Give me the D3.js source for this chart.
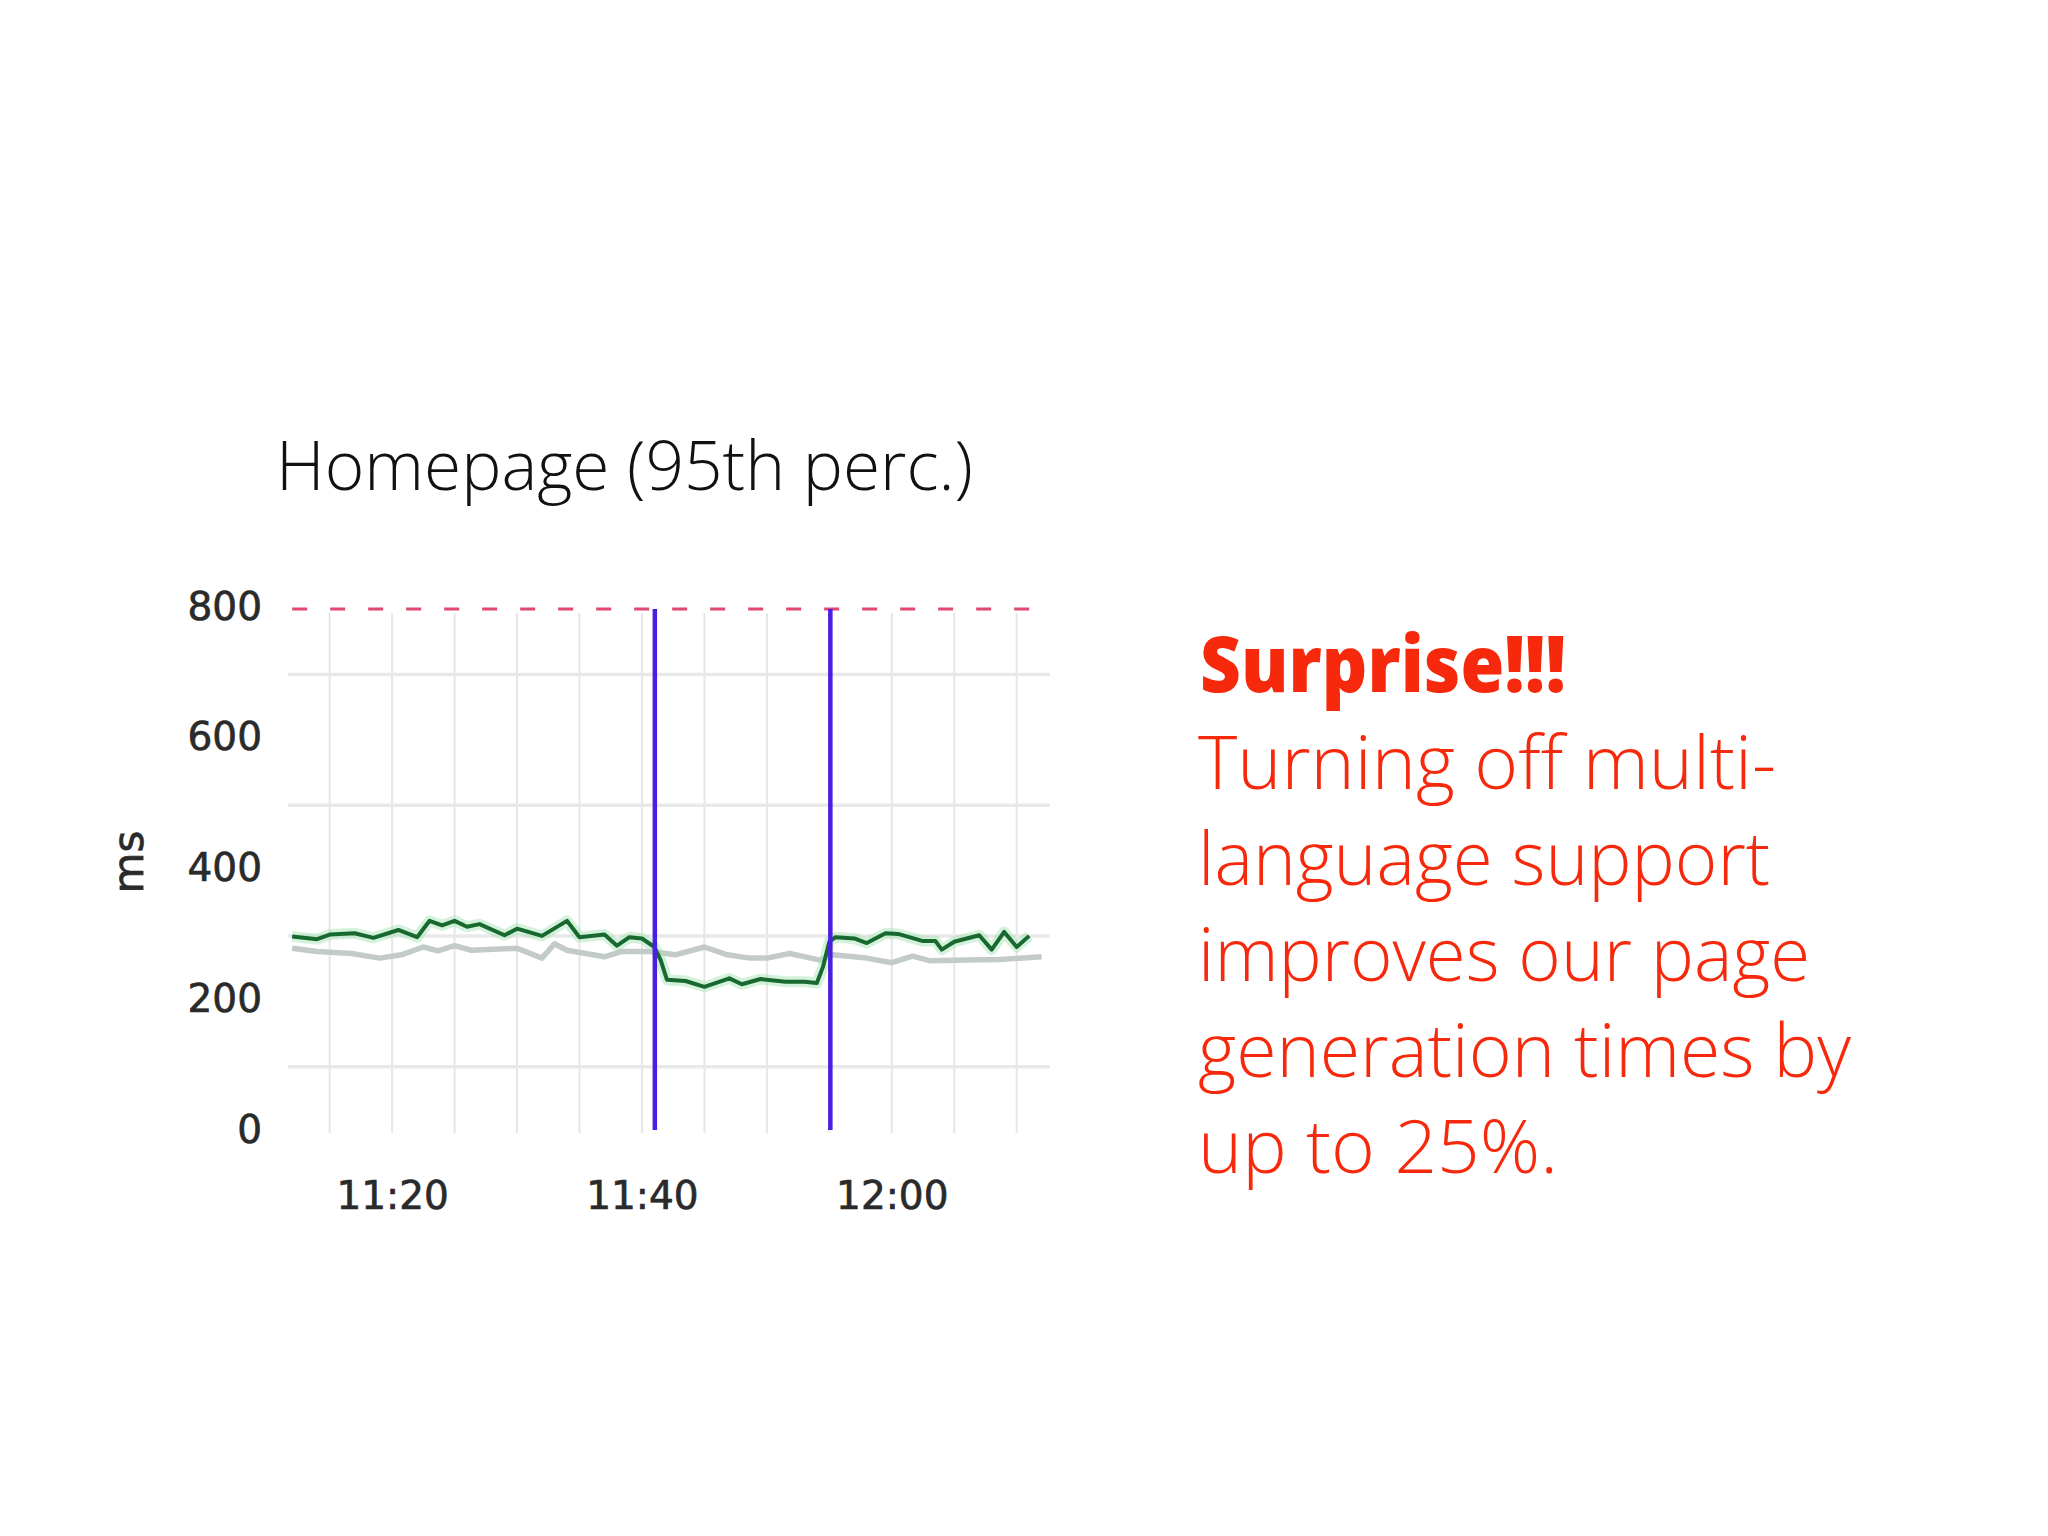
<!DOCTYPE html>
<html>
<head>
<meta charset="utf-8">
<script src="https://cdn.jsdelivr.net/npm/d3@7"></script>
<style>
  body { margin: 0; background: #ffffff; }
  .tick-label { font-family: "DejaVu Sans", Verdana, sans-serif; font-size: 39px; fill: #2a2a2a; stroke: #2a2a2a; stroke-width: 0.7px; }
  .title { font-family: "Open Sans", "Noto Sans", sans-serif; font-weight: 300; font-size: 69px; fill: #111; }
  .note { font-family: "Open Sans", "Noto Sans", sans-serif; font-weight: 300; font-size: 74px; fill: #f7290c; }
  .note-head { font-family: "Open Sans", "Noto Sans", sans-serif; font-weight: 800; font-size: 78px; fill: #f7290c; }
</style>
</head>
<body>
<div id="main"></div>
<script>
// chart data
var yTicks = [0, 200, 400, 600, 800];
var yGrid = [100, 300, 500, 700];
var xTicks = ['11:20', '11:40', '12:00'];
var xGrid = ['11:15', '11:20', '11:25', '11:30', '11:35', '11:40', '11:45', '11:50', '11:55', '12:00', '12:05', '12:10'];
var threshold = 800;
var deployTimes = ['11:41:02', '11:55:05'];

// 95th percentile, today
var greenTimes = ['11:12:00', '11:14:00', '11:15:00', '11:17:00', '11:18:30', '11:20:30', '11:22:00', '11:23:00', '11:24:00', '11:25:00',
  '11:26:00', '11:27:00', '11:29:00', '11:30:00', '11:32:00', '11:34:00', '11:35:00', '11:37:00', '11:38:00', '11:39:00',
  '11:40:00', '11:41:00', '11:41:30', '11:42:00', '11:43:30', '11:45:00', '11:47:00', '11:48:00', '11:49:30', '11:51:30',
  '11:53:00', '11:54:00', '11:54:30', '11:55:00', '11:55:30', '11:57:00', '11:58:00', '11:59:30', '12:00:30', '12:02:30',
  '12:03:30', '12:04:00', '12:05:00', '12:07:00', '12:08:00', '12:09:00', '12:10:00', '12:11:00'];
var greenValues = [299, 295, 302, 304, 297, 309, 298, 323, 316, 323,
  314, 318, 301, 311, 300, 323, 298, 302, 285, 298,
  296, 283, 263, 233, 231, 222, 235, 226, 234, 230,
  230, 228, 253, 291, 298, 296, 289, 304, 303, 292,
  292, 279, 291, 301, 279, 306, 283, 300];

// comparison series (grey)
var greyTimes = ['11:12:00', '11:14:00', '11:16:45', '11:19:00', '11:20:45', '11:22:30', '11:23:40', '11:25:00', '11:26:20', '11:30:00',
  '11:32:00', '11:33:00', '11:34:00', '11:37:00', '11:38:20', '11:40:45', '11:42:40', '11:45:00', '11:46:50', '11:48:40',
  '11:50:00', '11:51:50', '11:54:15', '11:55:15', '11:58:00', '12:00:00', '12:01:40', '12:03:00', '12:06:00', '12:08:40', '12:12:00'];
var greyValues = [281, 276, 273, 266, 271, 283, 277, 285, 278, 281,
  266, 288, 278, 268, 276, 276, 271, 283, 271, 266,
  266, 273, 263, 271, 266, 259, 269, 262, 263, 264, 268];

var noteHead = 'Surprise!!!';
var noteLines = ['Turning off multi-', 'language support', 'improves our page', 'generation times by', 'up to 25%.'];

var parseTime = function (s) {
  var p = s.split(':').map(Number);
  return new Date(2014, 0, 1, p[0], p[1], p[2] || 0);
};

var svg = d3.select('#main')
  .append('svg')
  .attr('width', 2048)
  .attr('height', 1536);

// scales
var xScale = d3.scaleTime()
  .domain([parseTime('11:11:40'), parseTime('12:12:40')])
  .range([288, 1050]);

var yScale = d3.scaleLinear()
  .domain([0, 800])
  .range([1132, 609]);

var plotBottom = 1133;

// title
svg.append('text')
  .attr('class', 'title')
  .attr('x', 276)
  .attr('y', 490)
  .attr('textLength', 697)
  .attr('lengthAdjust', 'spacingAndGlyphs')
  .text('Homepage (95th perc.)');

// grid
svg.append('g').selectAll('line')
  .data(xGrid)
  .enter()
  .append('line')
  .attr('x1', (d) => xScale(parseTime(d)))
  .attr('x2', (d) => xScale(parseTime(d)))
  .attr('y1', yScale(threshold) + 4)
  .attr('y2', plotBottom)
  .attr('stroke', '#e6e6e9')
  .attr('stroke-width', 2);

svg.append('g').selectAll('line')
  .data(yGrid)
  .enter()
  .append('line')
  .attr('x1', xScale.range()[0])
  .attr('x2', xScale.range()[1])
  .attr('y1', (d) => yScale(d))
  .attr('y2', (d) => yScale(d))
  .attr('stroke', '#e9e9e9')
  .attr('stroke-width', 3.5);

// threshold line
svg.append('line')
  .attr('x1', xScale(parseTime('11:12:00')))
  .attr('x2', xScale(parseTime('12:11:45')))
  .attr('y1', yScale(threshold))
  .attr('y2', yScale(threshold))
  .attr('stroke', '#e0486f')
  .attr('stroke-width', 3)
  .attr('stroke-dasharray', '15,23');

// series
var line = d3.line()
  .x((d) => xScale(d[0]))
  .y((d) => yScale(d[1]));

var greyData = greyTimes.map((t, i) => [parseTime(t), greyValues[i]]);
var greenData = greenTimes.map((t, i) => [parseTime(t), greenValues[i]]);

svg.append('path')
  .attr('d', line(greyData))
  .attr('fill', 'none')
  .attr('stroke', '#c2cbc7')
  .attr('stroke-width', 5.5)
  .attr('stroke-linejoin', 'round');

svg.append('path')
  .attr('d', line(greenData))
  .attr('fill', 'none')
  .attr('stroke', '#9fe3b0')
  .attr('stroke-opacity', 0.45)
  .attr('stroke-width', 11)
  .attr('stroke-linejoin', 'round');

svg.append('path')
  .attr('d', line(greenData))
  .attr('fill', 'none')
  .attr('stroke', '#17692f')
  .attr('stroke-width', 4)
  .attr('stroke-linejoin', 'round');

// deploy markers
svg.append('g').selectAll('line')
  .data(deployTimes)
  .enter()
  .append('line')
  .attr('x1', (d) => xScale(parseTime(d)))
  .attr('x2', (d) => xScale(parseTime(d)))
  .attr('y1', yScale(threshold))
  .attr('y2', 1130)
  .attr('stroke', '#4a1fe0')
  .attr('stroke-width', 4.5);

// y axis
var yAxis = d3.axisLeft(yScale)
  .tickValues(yTicks)
  .tickSize(0)
  .tickPadding(0);

var yAxisG = svg.append('g')
  .attr('transform', 'translate(262, 0)')
  .call(yAxis);
yAxisG.select('.domain').remove();
yAxisG.selectAll('text')
  .attr('class', 'tick-label')
  .attr('dy', 10)
  .attr('font-size', null)
  .attr('font-family', null)
  .attr('fill', null);

// x axis
var xAxis = d3.axisBottom(xScale)
  .tickValues(xTicks.map(parseTime))
  .tickFormat(d3.timeFormat('%H:%M'))
  .tickSize(0)
  .tickPadding(48);

var xAxisG = svg.append('g')
  .attr('transform', 'translate(0, ' + plotBottom + ')')
  .call(xAxis);
xAxisG.select('.domain').remove();
xAxisG.selectAll('text')
  .attr('class', 'tick-label')
  .attr('font-size', null)
  .attr('font-family', null)
  .attr('fill', null);

// axis title
svg.append('text')
  .attr('class', 'tick-label')
  .attr('transform', 'translate(143, 862) rotate(-90)')
  .attr('text-anchor', 'middle')
  .style('font-size', '42px')
  .text('ms');

// note on the right
svg.append('text')
  .attr('class', 'note-head')
  .attr('x', 1200)
  .attr('y', 692)
  .attr('textLength', 366)
  .attr('lengthAdjust', 'spacingAndGlyphs')
  .text(noteHead);

var lineEnds = [1776, 1770, 1810, 1851, 1558];
svg.append('g').selectAll('text')
  .data(noteLines)
  .enter()
  .append('text')
  .attr('class', 'note')
  .attr('x', 1198)
  .attr('y', (d, i) => 789 + i * 96)
  .attr('textLength', (d, i) => lineEnds[i] - 1198)
  .attr('lengthAdjust', 'spacingAndGlyphs')
  .text((d) => d);
</script>
</body>
</html>
